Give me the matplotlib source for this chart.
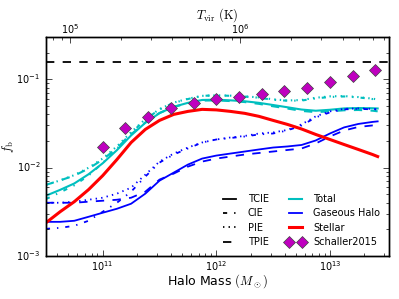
import numpy as np
import matplotlib
matplotlib.use('Agg')
import matplotlib.pyplot as plt

# halo mass grid (log10 M/Msun)
log_mass = [10.5, 10.625, 10.75, 10.875, 11.0, 11.125, 11.25, 11.375, 11.5, 11.625, 11.75, 11.875,
            12.0, 12.125, 12.25, 12.375, 12.5, 12.625, 12.75, 12.875, 13.0, 13.125, 13.25, 13.375, 13.42]

# log10 f_b
stellar = [-2.625, -2.500, -2.386, -2.250, -2.091, -1.909, -1.716, -1.568, -1.466, -1.398, -1.364, -1.341,
           -1.347, -1.364, -1.386, -1.420, -1.466, -1.511, -1.563, -1.625, -1.682, -1.739, -1.795, -1.852, -1.875]

# gaseous halo for the four ionisation models
halo_tcie = [-2.614, -2.614, -2.602, -2.557, -2.511, -2.466, -2.409, -2.295, -2.148, -2.057, -1.966, -1.898,
             -1.864, -1.841, -1.818, -1.795, -1.773, -1.761, -1.744, -1.693, -1.614, -1.545, -1.506, -1.483, -1.477]
halo_cie = [-2.693, -2.682, -2.659, -2.602, -2.500, -2.398, -2.273, -2.102, -1.943, -1.852, -1.784, -1.716,
            -1.682, -1.665, -1.648, -1.625, -1.614, -1.580, -1.523, -1.432, -1.375, -1.341, -1.335, -1.341, -1.341]
halo_pie = [-2.398, -2.398, -2.386, -2.364, -2.341, -2.295, -2.227, -2.080, -1.932, -1.841, -1.773, -1.716,
            -1.682, -1.659, -1.642, -1.614, -1.602, -1.574, -1.511, -1.420, -1.364, -1.335, -1.330, -1.335, -1.341]
halo_tpie = [-2.398, -2.398, -2.398, -2.386, -2.375, -2.364, -2.341, -2.273, -2.136, -2.068, -1.989, -1.932,
             -1.898, -1.875, -1.852, -1.835, -1.818, -1.801, -1.784, -1.727, -1.648, -1.580, -1.540, -1.523, -1.523]

# Schaller et al. 2015
schaller_logm = [11.0, 11.2, 11.4, 11.6, 11.8, 12.0, 12.2, 12.4, 12.6, 12.8, 13.0, 13.2, 13.4]
schaller_fb = [0.0173, 0.0277, 0.0370, 0.0468, 0.0533, 0.0593, 0.0624, 0.0676, 0.0731, 0.0791, 0.0925, 0.108, 0.126]

f_cosmic = 0.157

plt.style.use('classic')
plt.rcParams['savefig.facecolor'] = 'white'
plt.rcParams['figure.facecolor'] = 'white'

fig = plt.figure(figsize=(3.99, 2.99), dpi=100)
ax = fig.add_axes([0.115, 0.144, 0.86, 0.732])

m = 10 ** np.array(log_mass)
fstar = 10 ** np.array(stellar)
line_styles = ['-', '-.', ':', '--']
halos = [halo_tcie, halo_cie, halo_pie, halo_tpie]

# total = gaseous halo + stars
for arr, ls in zip(halos, line_styles):
    ax.plot(m, 10 ** np.array(arr) + fstar, color='c', linestyle=ls, lw=1.5)
for arr, ls in zip(halos, line_styles):
    ax.plot(m, 10 ** np.array(arr), color='b', linestyle=ls, lw=1.3)
ax.plot(m, fstar, color='r', lw=2.2)
ax.plot(10 ** np.array(schaller_logm), schaller_fb, 'mD', ms=6, mec='0.25', mew=0.5, linestyle='none')
ax.axhline(f_cosmic, color='k', linestyle='--', lw=1.3)

ax.set_xscale('log')
ax.set_yscale('log')
ax.set_xlim(10 ** 10.5, 10 ** 13.52)
ax.set_ylim(1e-3, 0.3)
ax.tick_params(labelsize=7)
ax.tick_params(axis='x', pad=2)
ax.set_xlabel(r'Halo Mass $(M_\odot)$', fontsize=9, labelpad=0)
ax.set_ylabel(r'$f_{\rm b}$', fontsize=9, labelpad=0)

# legend proxies
h = []
for lab, ls in zip(['TCIE', 'CIE', 'PIE', 'TPIE'], line_styles):
    h += ax.plot([], [], color='k', linestyle=ls, lw=1.3, label=lab)
h += ax.plot([], [], color='c', lw=1.5, label='Total')
h += ax.plot([], [], color='b', lw=1.3, label='Gaseous Halo')
h += ax.plot([], [], color='r', lw=2.2, label='Stellar')
h += ax.plot([], [], 'mD', ms=6, mec='0.25', mew=0.5, linestyle='none', label='Schaller2015')
ax.legend(handles=h, ncol=2, loc='lower right', frameon=False, fontsize=7,
          handlelength=1.9, numpoints=2, labelspacing=0.45, columnspacing=1.8,
          handletextpad=0.9, bbox_to_anchor=(1.0, 0.0))

# top axis: virial temperature
def tvir(mass):
    return 1e5 * (mass / 10 ** 10.71) ** (2.0 / 3.0)

ax2 = ax.twiny()
ax2.set_xscale('log')
ax2.set_xlim(tvir(10 ** 10.5), tvir(10 ** 13.52))
ax2.tick_params(labelsize=7, pad=1)
ax2.set_xlabel(r'$T_{\rm vir}\ ({\rm K})$', fontsize=9, labelpad=2)

fig.savefig('out.png', dpi=100)
